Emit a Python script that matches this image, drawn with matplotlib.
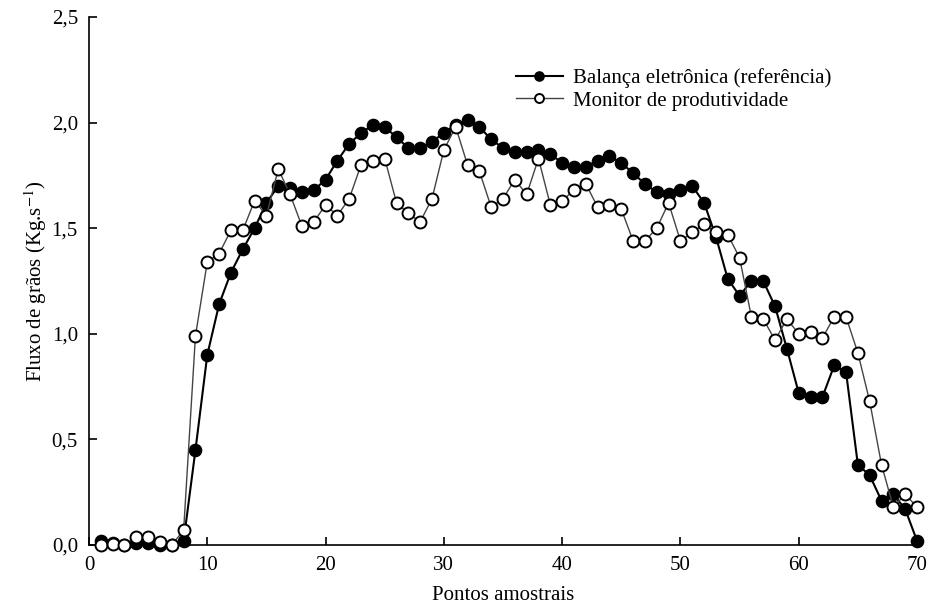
import numpy as np
import matplotlib
matplotlib.use("Agg")
import matplotlib.pyplot as plt

# Pontos amostrais 1..70
pontos = np.arange(1, 71)

# Balança eletrônica (referência)
balanca = [0.02, 0.01, 0.00, 0.01, 0.01, 0.00, 0.00, 0.02, 0.45, 0.90,
           1.14, 1.29, 1.40, 1.50, 1.62, 1.70, 1.69, 1.67, 1.68, 1.73,
           1.82, 1.90, 1.95, 1.99, 1.98, 1.93, 1.88, 1.88, 1.91, 1.95,
           1.99, 2.01, 1.98, 1.92, 1.88, 1.86, 1.86, 1.87, 1.85, 1.81,
           1.79, 1.79, 1.82, 1.84, 1.81, 1.76, 1.71, 1.67, 1.66, 1.68,
           1.70, 1.62, 1.46, 1.26, 1.18, 1.25, 1.25, 1.13, 0.93, 0.72,
           0.70, 0.70, 0.85, 0.82, 0.38, 0.33, 0.21, 0.24, 0.17, 0.02]

# Monitor de produtividade
monitor = [0.00, 0.005, 0.00, 0.04, 0.04, 0.015, 0.00, 0.07, 0.99, 1.34,
           1.38, 1.49, 1.49, 1.63, 1.56, 1.78, 1.66, 1.51, 1.53, 1.61,
           1.56, 1.64, 1.80, 1.82, 1.83, 1.62, 1.57, 1.53, 1.64, 1.87,
           1.98, 1.80, 1.77, 1.60, 1.64, 1.73, 1.66, 1.83, 1.61, 1.63,
           1.68, 1.71, 1.60, 1.61, 1.59, 1.44, 1.44, 1.50, 1.62, 1.44,
           1.48, 1.52, 1.48, 1.47, 1.36, 1.08, 1.07, 0.97, 1.07, 1.00,
           1.01, 0.98, 1.08, 1.08, 0.91, 0.68, 0.38, 0.18, 0.24, 0.18]

plt.rcParams["font.family"] = ["Liberation Serif", "DejaVu Serif"]
plt.rcParams["mathtext.fontset"] = "stix"

fig = plt.figure(figsize=(9.3, 6.09), dpi=100)
ax = fig.add_axes([89 / 930, 64 / 609, (917 - 89) / 930, (545 - 17) / 609])

ax.plot(pontos, monitor, color="#444444", lw=1.0, marker="o", ms=8.6,
        mfc="white", mec="black", mew=1.4, clip_on=False, zorder=3,
        label="Monitor de produtividade")
ax.plot(pontos, balanca, color="black", lw=1.5, marker="o", ms=8.6,
        mfc="black", mec="black", mew=1.2, clip_on=False, zorder=2,
        label="Balança eletrônica (referência)")

ax.set_xlim(0, 70)
ax.set_ylim(0, 2.5)
ax.set_xticks([0, 10, 20, 30, 40, 50, 60, 70])
ax.set_yticks([0, 0.5, 1.0, 1.5, 2.0, 2.5])
ax.set_yticklabels(["0,0", "0,5", "1,0", "1,5", "2,0", "2,5"])

for s in ["top", "right"]:
    ax.spines[s].set_visible(False)
for s in ["left", "bottom"]:
    ax.spines[s].set_linewidth(1.2)
ax.tick_params(direction="in", length=6, width=1.2, labelsize=15, pad=8)

ax.set_xlabel("Pontos amostrais", fontsize=15, labelpad=8)
ax.set_ylabel("Fluxo de grãos (Kg.s$^{-1}$)", fontsize=15, labelpad=2)

handles, labels = ax.get_legend_handles_labels()
ax.legend(handles[::-1], labels[::-1], loc="upper left",
          bbox_to_anchor=(0.495, 0.935), frameon=False, fontsize=15,
          markerscale=0.75, handlelength=2.3, handletextpad=0.45,
          labelspacing=0.15, borderpad=0.3)

plt.savefig("out.png", dpi=100)
